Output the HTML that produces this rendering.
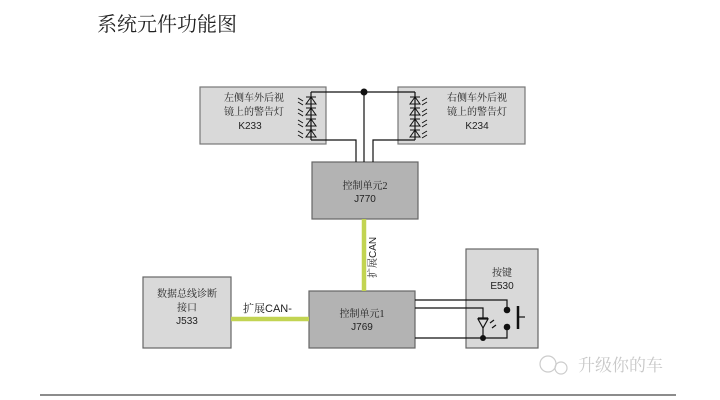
<!DOCTYPE html>
<html><head><meta charset="utf-8"><style>
html,body{margin:0;padding:0;background:#fff;}
svg{display:block;}
text{font-family:"Liberation Sans","Noto Serif CJK SC",sans-serif;fill:#222;}
.cn{font-family:"Liberation Serif","Noto Serif CJK SC",serif;}
</style></head><body>
<svg width="720" height="400" viewBox="0 0 720 400" xmlns="http://www.w3.org/2000/svg">
<text x="97" y="31" font-size="20" class="cn">系统元件功能图</text>
<rect x="200" y="87" width="126" height="57" fill="#d9d9d9" stroke="#777" stroke-width="1.2"/>
<rect x="398" y="87" width="127" height="57" fill="#d9d9d9" stroke="#777" stroke-width="1.2"/>
<rect x="312" y="162" width="106" height="57" fill="#b3b3b3" stroke="#666" stroke-width="1.2"/>
<rect x="143" y="277" width="88" height="71" fill="#d9d9d9" stroke="#666" stroke-width="1.2"/>
<rect x="309" y="291" width="106" height="57" fill="#b3b3b3" stroke="#666" stroke-width="1.2"/>
<rect x="466" y="249" width="72" height="99" fill="#d9d9d9" stroke="#666" stroke-width="1.2"/>
<g stroke="#111" stroke-width="1.2" fill="none">
<polyline points="311,92 415,92"/>
<line x1="311" y1="92" x2="311" y2="140"/>
<line x1="415" y1="92" x2="415" y2="140"/>
<line x1="364" y1="92" x2="364" y2="162"/>
<polyline points="311,140 356,140 356,162"/>
<polyline points="415,140 373,140 373,162"/>
</g>
<circle cx="364" cy="92" r="3.5" fill="#111"/>
<g stroke="#111" stroke-width="1" fill="none">
<path d="M306,97h10M311,97l-5,7h10z M306,108h10M311,108l-5,7h10z M306,119h10M311,119l-5,7h10z M306,130h10M311,130l-5,7h10z"/>
<path d="M410,97h10M415,97l-5,7h10z M410,108h10M415,108l-5,7h10z M410,119h10M415,119l-5,7h10z M410,130h10M415,130l-5,7h10z"/>
<path d="M298,98l5,3M298,102l5,3M298,109l5,3M298,113l5,3M298,120l5,3M298,124l5,3M298,131l5,3M298,135l5,3"/>
<path d="M422,101l5,-3M422,105l5,-3M422,112l5,-3M422,116l5,-3M422,123l5,-3M422,127l5,-3M422,134l5,-3M422,138l5,-3"/>
</g>
<line x1="364" y1="219" x2="364" y2="291" stroke="#c2d452" stroke-width="4.5"/>
<line x1="231" y1="319" x2="309" y2="319" stroke="#c2d452" stroke-width="4.5"/>
<text x="0" y="0" font-size="10" transform="translate(376,278) rotate(-90)"><tspan class="cn">扩展</tspan>CAN</text>
<text x="243" y="312" font-size="11"><tspan class="cn">扩展</tspan>CAN-</text>
<g stroke="#111" stroke-width="1.2" fill="none">
<polyline points="415,300 507,300 507,310"/>
<polyline points="415,308 483,308 483,318"/>
<polyline points="415,338 507,338 507,327"/>
<line x1="483" y1="328" x2="483" y2="338"/>
<path d="M478,318h10M483,328l-5,-9h10z"/>
<path d="M490,323l4,-3M492,328l4,-3"/>
<line x1="518" y1="306" x2="518" y2="329" stroke-width="2.5"/>
<line x1="518" y1="317" x2="525" y2="317"/>
</g>
<circle cx="507" cy="310" r="3.3" fill="#111"/>
<circle cx="507" cy="327" r="3.3" fill="#111"/>
<circle cx="483" cy="338" r="3" fill="#111"/>
<g font-size="10" text-anchor="middle">
<text x="254" y="101" class="cn">左侧车外后视</text>
<text x="254" y="115" class="cn">镜上的警告灯</text>
<text x="250" y="129">K233</text>
<text x="477" y="101" class="cn">右侧车外后视</text>
<text x="477" y="115" class="cn">镜上的警告灯</text>
<text x="477" y="129">K234</text>
<text x="365" y="189" class="cn">控制单元2</text>
<text x="365" y="202">J770</text>
<text x="187" y="297" class="cn">数据总线诊断</text>
<text x="187" y="311" class="cn">接口</text>
<text x="187" y="324">J533</text>
<text x="362" y="317" class="cn">控制单元1</text>
<text x="362" y="330">J769</text>
<text x="502" y="276" class="cn">按键</text>
<text x="502" y="289">E530</text>
</g>
<g stroke="#ccc" fill="none" stroke-width="1.2"><circle cx="548" cy="364" r="8"/><circle cx="561" cy="368" r="6"/></g>
<text x="578" y="371" font-size="17" style="fill:#c8c8c8">升级你的车</text>
<line x1="40" y1="395" x2="676" y2="395" stroke="#666" stroke-width="1.5"/>
</svg>
</body></html>
